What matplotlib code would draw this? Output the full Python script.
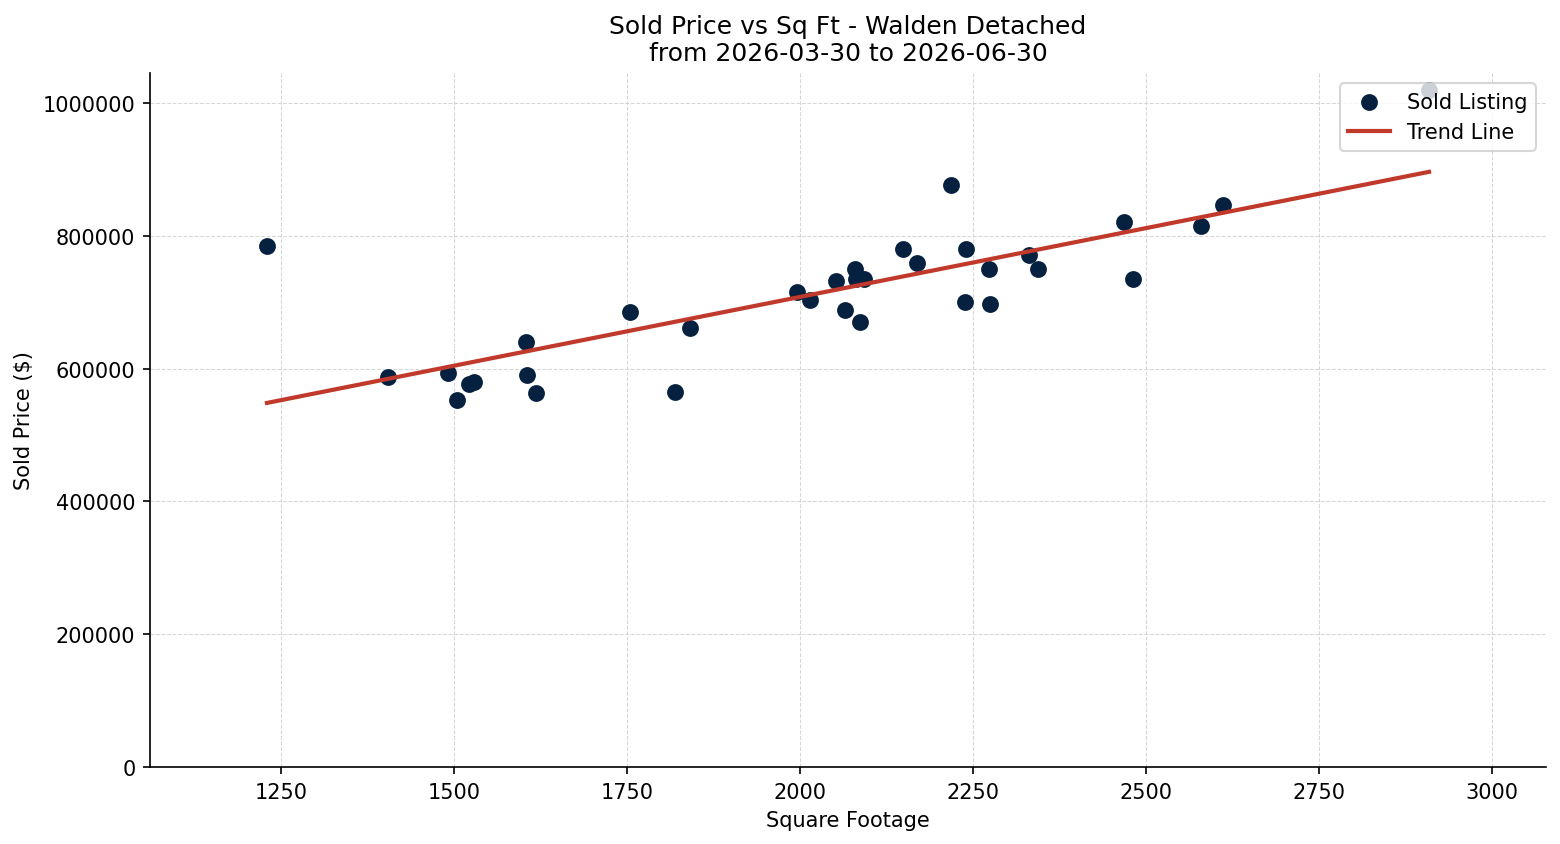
import numpy as np
import matplotlib
matplotlib.use("Agg")
import matplotlib.pyplot as plt

sqft = [1230, 1405, 1491, 1504, 1522, 1529, 1604, 1606, 1618, 1754, 1819, 1841,
        1996, 2014, 2052, 2065, 2079, 2081, 2087, 2093, 2149, 2169, 2218, 2238,
        2240, 2273, 2275, 2331, 2344, 2468, 2481, 2580, 2611, 2909]
price = [785000, 588000, 593000, 552000, 576000, 579000, 640000, 590000, 563000,
         685000, 565000, 661000, 715000, 703000, 732000, 688000, 750000, 735000,
         670000, 735000, 780000, 759000, 876000, 700000, 780000, 750000, 697000,
         771000, 750000, 821000, 735000, 815000, 846000, 1020000]

title = "Sold Price vs Sq Ft - Walden Detached\nfrom 2026-03-30 to 2026-06-30"

x = np.array(sqft, dtype=float)
y = np.array(price, dtype=float)
coef = np.polyfit(x, y, 1)
xs = np.array([x.min(), x.max()])
ys = np.polyval(coef, xs)

fig = plt.figure(figsize=(10.4, 5.6333), dpi=150)
ax = fig.add_axes([150/1560, 1-768/845, (1546-150)/1560, (768-74)/845])
ax.scatter(x, y, s=50, color="#06203f", label="Sold Listing", zorder=3)
ax.plot(xs, ys, color="#c0392b", linewidth=2, label="Trend Line", zorder=4)

ax.set_xlim(1061, 3078)
ax.set_ylim(0, 1045000)
ax.ticklabel_format(style="plain", axis="y", useOffset=False)
ax.grid(True, linestyle="--", linewidth=0.5, color="#cccccc", alpha=0.8)
ax.set_axisbelow(True)
for s in ["top", "right"]:
    ax.spines[s].set_visible(False)

ax.set_title(title, fontsize=12)
ax.set_xlabel("Square Footage")
ax.set_ylabel("Sold Price ($)")
ax.legend(loc="upper right", fontsize=10)

fig.savefig("out.png", dpi=150)
